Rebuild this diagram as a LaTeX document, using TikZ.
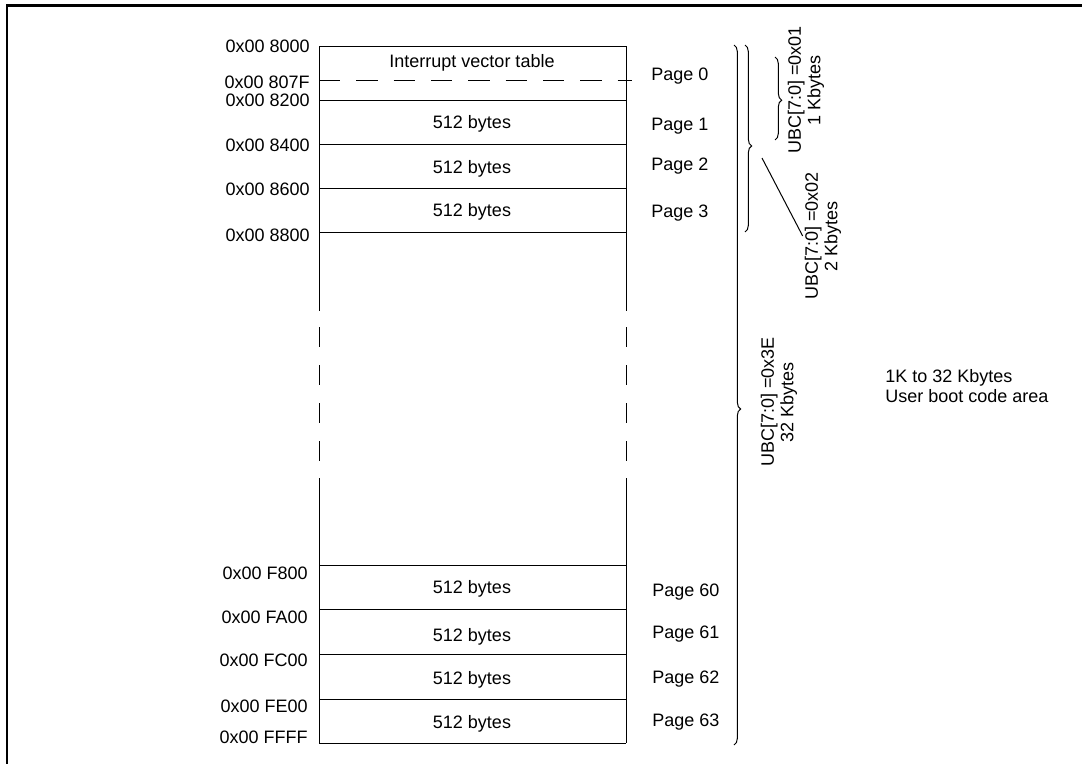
\documentclass[tikz,border=0pt]{standalone}
\usepackage{fontspec}
\setmainfont{Liberation Sans}
\usetikzlibrary{decorations.pathreplacing}
\tikzset{
  memline/.style={line width=0.75pt},
  addr/.style={anchor=base east, inner sep=0pt},
  pagelbl/.style={anchor=base west, inner sep=0pt},
  cell/.style={anchor=base, inner sep=0pt},
  ubcbrace/.style={memline, decorate, decoration={brace, amplitude=5pt}},
  ubctext/.style={rotate=90, align=center, inner sep=0pt},
}
\begin{document}
\begin{tikzpicture}[x=0.75pt,y=-0.75pt]
\useasboundingbox (0,0) rectangle (1082,764);
{\fontsize{13.5}{14.5}\selectfont

% Frame
\draw [line width=1.6pt] (7,764) -- (7,5.5) -- (1082,5.5);

% Page boundaries
\foreach \y in {46,100,144,188,232,565,609,654,699,743}
  \draw [memline] (319,\y) -- (626,\y);
\draw [memline, dash pattern=on 16pt off 12pt] (319,80) -- (632,80);

% Sides of the memory, broken in the middle
\foreach \x in {319,626} {
  \draw [memline] (\x,46) -- (\x,311);
  \draw [memline, dash pattern=on 15pt off 13.5pt] (\x,327) -- (\x,478);
  \draw [memline] (\x,478) -- (\x,743);
}

% Addresses
\node [addr] (a8000) at (310,52) {0x00 8000};
\node [addr] (a807F) at (310,88) {0x00 807F};
\node [addr] (a8200) at (310,106) {0x00 8200};
\node [addr] (a8400) at (310,151) {0x00 8400};
\node [addr] (a8600) at (310,195) {0x00 8600};
\node [addr] (a8800) at (310,241) {0x00 8800};
\node [addr] (aF800) at (308,579) {0x00 F800};
\node [addr] (aFA00) at (308,623) {0x00 FA00};
\node [addr] (aFC00) at (308,666) {0x00 FC00};
\node [addr] (aFE00) at (308,712) {0x00 FE00};
\node [addr] (aFFFF) at (308,743) {0x00 FFFF};

% Cell contents
\node [cell] (ivt) at (472,67) {Interrupt vector table};
\node [cell] (c1) at (472,128) {512 bytes};
\node [cell] (c2) at (472,173) {512 bytes};
\node [cell] (c3) at (472,216) {512 bytes};
\node [cell] (c60) at (472,593) {512 bytes};
\node [cell] (c61) at (472,641) {512 bytes};
\node [cell] (c62) at (472,684) {512 bytes};
\node [cell] (c63) at (472,728) {512 bytes};

% Page numbers
\node [pagelbl] (p0) at (651,80) {Page 0};
\node [pagelbl] (p1) at (651,130) {Page 1};
\node [pagelbl] (p2) at (651,170) {Page 2};
\node [pagelbl] (p3) at (651,217) {Page 3};
\node [pagelbl] (p60) at (652,596) {Page 60};
\node [pagelbl] (p61) at (652,638) {Page 61};
\node [pagelbl] (p62) at (652,683) {Page 62};
\node [pagelbl] (p63) at (652,726) {Page 63};

% Braces for the UBC settings
\draw [ubcbrace, decoration={aspect=0.52}] (734,45) -- (734,745);
\draw [ubcbrace, decoration={aspect=0.54}] (745,45) -- (745,232);
\draw [ubcbrace, decoration={aspect=0.52}] (775,57) -- (775,140);

% UBC labels
\node [ubctext] (ubc1) at (806,90) {UBC[7:0] =0x01\\1 Kbytes};
\node [ubctext] (ubc2) at (823,236) {UBC[7:0] =0x02\\2 Kbytes};
\node [ubctext] (ubc3) at (779,402) {UBC[7:0] =0x3E\\32 Kbytes};
\coordinate (tip2) at (762,158);
\draw [memline] (tip2) -- ([xshift=-1.5pt]ubc2.north);

% Area note
\node [anchor=west, align=left, inner sep=0pt] (area) at (885,386)
  {1K to 32 Kbytes\\User boot code area};
}
\end{tikzpicture}
\end{document}
